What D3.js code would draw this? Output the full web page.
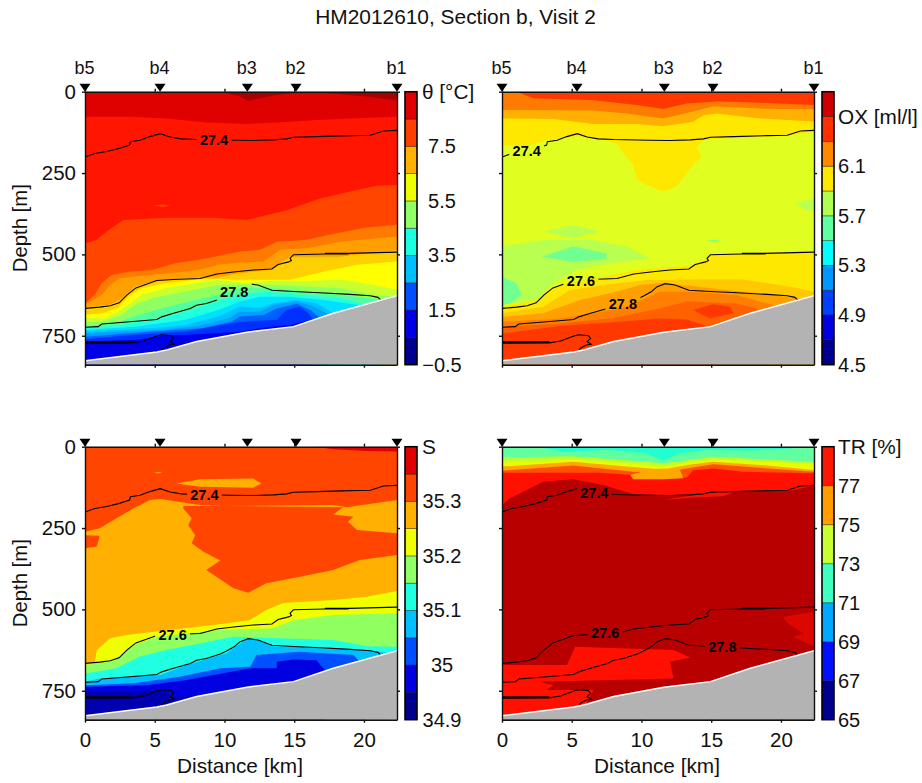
<!DOCTYPE html>
<html>
<head>
<meta charset="utf-8">
<script src="https://d3js.org/d3.v7.min.js"></script>
<style>
	body {
		padding: 0;
		margin: 0;
		background: #FFF;
	}
	svg {
		display: block;
	}
	text {
		font-family: "Liberation Sans", Arial, sans-serif;
		fill: #111;
	}
	.axis text {
		font-size: 20.5px;
	}
	.axis path, .axis line {
		stroke: #111;
		stroke-width: 1.4;
	}
	.cb {
		font-size: 20px;
	}
	.cbname {
		font-size: 20.8px;
	}
	.clabel {
		font-size: 14.5px;
		font-weight: bold;
		fill: #000;
	}
	.iso {
		fill: none;
		stroke: #000;
		stroke-width: 1.1;
	}
</style>
</head>
<body>
<div id="content"></div>
<script>

var stationNames = ['b5', 'b4', 'b3', 'b2', 'b1'];
var stationKm = [0, 5.38, 11.64, 15.13, 22.37];
var distanceTicks = [0, 5, 10, 15, 20];
var depthTicks = [0, 250, 500, 750];

// Bottom profile, distance [km] and depth [m]
var bottomProfile = [[0,827],[5.15,800],[5.85,794],[8,768],[11.6,739],[14.95,722],[17.8,681],[22.37,627]];

// Density contours
var iso274 = [[0,201],[0.7,190],[1.55,184],[2.4,175],[3.2,164],[3.25,154],[3.95,149],[4.65,138],[5.4,129],[6.1,139],[6.9,145],[8,147],[10.5,149],[12.05,150],[13.5,148],[14.45,145],[14.95,140],[16.6,138],[19,135],[20.45,134],[21.4,121],[22.37,119]];
var iso276 = [[0,666],[1.05,662],[1.8,658],[2.45,649],[3,625],[3.65,603],[4.4,592],[5.15,580],[6.35,577],[8.25,574],[9.45,560],[10.65,554],[12.05,548],[13.4,545],[13.85,531],[14.6,523],[14.8,519],[14.7,512],[14.95,501],[17.2,499],[18.9,499],[17.2,497],[18.9,497],[22.37,493]];
var iso278 = [[0,724],[0.95,722],[1.2,714],[3,708],[5.15,700],[5.5,692],[6.35,681],[7.55,666],[8,656],[8.7,651],[9.7,637],[10.15,628],[10.7,615],[11.1,600],[11.7,590],[12.4,594],[13.4,610],[14.95,614],[16.85,618],[19,623],[20.45,627],[21,632],[21.2,640]];
var iso280 = [[0,769],[3.4,769],[0,771],[3.4,771],[0,773],[3.4,772],[4.2,766],[5.15,751],[5.5,747],[6.2,750],[6.35,758],[6.1,768],[6.4,776],[6,779],[5.6,789],[5.55,796]];

// Contour labels: text, km, depth
var thetaLabels = [['27.4',9.25,150],['27.8',10.7,615]];
var oxLabels = [['27.4',1.77,181],['27.6',5.66,581],['27.8',8.67,653]];
var salLabels = [['27.4',8.56,149],['27.6',6.28,579]];
var trLabels = [['27.4',6.62,141],['27.6',7.4,574],['27.8',15.8,615]];

// Colorbars
var thetaBar = ['#00008f','#0000e8','#0050ff','#00bfff','#1affe0','#90ff68','#f0ff00','#ffb000','#ff4000','#e00000'];
var thetaTicks = [-0.5, 1.5, 3.5, 5.5, 7.5];
var thetaLevels = [-0.5, 9.5];
var oxBar = ['#000090','#0000e0','#0040ff','#0098ff','#00ffff','#60ff9f','#b0ff50','#ffe800','#ff8800','#ff3000','#cf0000'];
var oxTicks = [4.5, 4.9, 5.3, 5.7, 6.1];
var oxLevels = [4.5, 6.7];
var salBar = ['#00008f','#0000e0','#0050ff','#00c0ff','#20ffe0','#90ff68','#f0ff00','#ffb000','#ff4500','#e00000'];
var salTicks = [34.9, 35, 35.1, 35.2, 35.3];
var salLevels = [34.9, 35.4];
var trBar = ['#00008f','#0010ff','#00a8ff','#40ffc0','#c8ff30','#ff9c00','#ff1800'];
var trTicks = [65, 67, 69, 71, 73, 75, 77];
var trLevels = [65, 79];

// Filled layers, painted in order. "band" fills from its line down, "patch" is a closed shape
var thetaFills = ['#df0000','#a80000','#ff1500','#ff4500','#ff7a00','#ffa000','#ffd000','#ffff00','#c8ff30','#90ff60','#50ffa0','#20ffe0','#00e0ff','#00bfff','#00a0ff','#0060ff','#0030ff','#0000e8'];
var thetaLayers = [
	{c:0, band:[[0,0],[22.4,0]]},
	{c:1, patch:[[9.8,0],[11.1,15],[11.7,29],[12.55,20],[13.75,10],[14.95,5],[16.9,3],[20.2,15],[22.4,28],[22.4,0]]},
	{c:2, band:[[0,77],[3.45,77],[5.85,82],[8.7,95],[11.6,99],[13.75,95],[16.6,87],[20.2,80],[22.4,77]]},
	{c:3, band:[[0,466],[0.8,456],[1.55,430],[2.75,394],[5.85,387],[9.2,387],[11.6,394],[14.45,364],[16.85,328],[19,307],[20.9,289],[22.4,287]]},
	{c:3, patch:[[4.9,350],[5.6,347],[6.1,350],[5.6,354]]},
	{c:4, band:[[0,650],[0.7,625],[1.2,589],[1.9,563],[3.1,553],[4.8,548],[6.45,527],[8.1,517],[9.55,505],[11.1,491],[12.55,486],[13.75,461],[15.9,455],[18,435],[20.2,417],[22.4,409]]},
	{c:5, band:[[0,655],[1.2,625],[1.8,594],[2.5,573],[3.6,568],[6,558],[8.1,548],[9.55,532],[11.1,525],[12.8,522],[14,486],[15.9,481],[18.3,461],[22.4,445]]},
	{c:6, band:[[0,663],[1.7,655],[2.5,640],[3.6,599],[4.8,584],[7.2,573],[9.55,570],[11.1,558],[13.25,548],[14.7,507],[18.3,507],[22.4,486]]},
	{c:7, band:[[0,686],[1.4,679],[2.4,663],[3.1,630],[4.05,604],[5.75,589],[7.9,578],[8.85,576],[11.1,578],[14.7,578],[17.1,553],[19.5,532],[22.4,522]]},
	{c:8, band:[[0,696],[1.4,696],[2.4,676],[3.1,655],[4.05,625],[5.75,604],[7.9,589],[9.55,578],[11.45,589],[13.5,580],[15.9,582],[18.3,578],[20.7,594],[22.4,609]]},
	{c:9, band:[[0,707],[1.2,707],[2.6,686],[3.6,655],[4.8,635],[6.7,619],[9.55,594],[11.45,592],[13.5,594],[15.9,599],[18.3,604],[20.7,625],[22.4,630]]},
	{c:10, band:[[0,722],[2.4,707],[3.8,686],[6,660],[7.9,640],[9.55,625],[11.1,604],[13.5,604],[15.9,614],[18.3,625],[21.4,640]]},
	{c:11, band:[[0,727],[2.6,717],[5.5,696],[7.9,666],[9.8,640],[11.1,625],[13,614],[15.4,625],[18.3,635],[20.2,655]]},
	{c:12, band:[[0,732],[3.6,722],[7.2,701],[9.55,671],[11.1,645],[12.55,630],[14.7,630],[17.1,640],[19.5,655],[21,670]]},
	{c:13, band:[[0,737],[4.8,727],[7.2,717],[9.55,691],[11.1,660],[12.55,665],[13.5,650],[15.2,640],[16.6,650],[17.8,681]]},
	{c:14, band:[[0,742],[6,730],[8.4,717],[10.3,696],[11.1,676],[12.55,676],[13.5,655],[15.2,645],[16.4,660],[17.3,681],[18.3,696]]},
	{c:15, band:[[0,753],[4.8,737],[8.4,727],[10.5,707],[11.1,691],[12.8,686],[13.75,666],[15.2,652],[16.25,673],[16.85,696],[17.3,707]]},
	{c:16, band:[[0,761],[3.35,748],[7.2,737],[11.1,707],[13.75,701],[14.45,671],[15.4,660],[16,681],[16.5,707]]},
	{c:17, band:[[0,768],[3.6,762],[6,748],[7.2,748],[11.2,737],[13.25,722],[14.7,717],[15.8,705]]}
];

var oxFills = ['#ff7a00','#ff3800','#ffb000','#ffe800','#e0ff20','#b8ff50','#70ff90','#ffc800','#ffa000','#ff8000','#ff6000'];
var oxLayers = [
	{c:0, band:[[0,0],[22.4,0]]},
	{c:1, patch:[[1.05,0],[2.25,20],[6.55,26],[9.65,41],[11.55,53],[13.25,36],[15.6,29],[18.5,34],[22.4,41],[22.4,0]]},
	{c:2, band:[[0,56],[6.55,58],[8.95,67],[11.55,82],[13.7,61],[15.15,45],[18.5,52],[22.4,54]]},
	{c:3, band:[[0,82],[3.7,84],[6.55,99],[9.65,99],[11.55,106],[13.7,92],[14.45,72],[15.4,67],[18.5,82],[22.4,92]]},
	{c:4, band:[[0,164],[1.75,169],[3.2,149],[5.35,138],[7.25,147],[8.2,159],[8.7,190],[9.4,225],[9.65,266],[10.35,287],[11.55,307],[12.5,292],[13.7,225],[14.3,200],[13.95,169],[14.55,148],[20.9,133],[22.4,123]]},
	{c:5, patch:[[0.1,476],[2.95,456],[6.55,456],[8.95,476],[10.6,512],[7.75,528],[5.35,548],[3.7,589],[2.5,640],[0,656]]},
	{c:5, patch:[[2.95,430],[5.1,410],[7,430],[5.1,451]]},
	{c:5, patch:[[21,343],[22.4,328],[22.4,369],[21.85,364]]},
	{c:6, patch:[[2.85,507],[5.1,476],[7.5,497],[7.5,512],[5.1,523]]},
	{c:6, patch:[[0,569],[1.05,589],[1.4,625],[0.55,651],[0,656]]},
	{c:6, patch:[[14.65,458],[15.2,456],[15.75,458],[15.2,461]]},
	{c:3, band:[[0,659],[2.5,640],[3.45,605],[5.1,584],[7.25,569],[9.65,548],[13.7,533],[14.65,512],[14.9,499],[22.4,490]]},
	{c:7, band:[[0,681],[2.95,661],[4.85,610],[7.25,594],[10.35,579],[13.7,577],[17.3,577],[20.9,601],[22.4,615]]},
	{c:8, band:[[0,692],[2.95,681],[5.6,640],[8.2,615],[9.9,594],[11.55,587],[15.15,605],[18.5,620],[21.1,635],[22.4,635]]},
	{c:9, band:[[0,707],[4.15,697],[6.55,681],[8.95,661],[11.3,615],[13.7,615],[16.8,625],[19,651],[20.9,671]]},
	{c:10, band:[[0,722],[4.15,712],[7.75,697],[11.3,666],[13.25,645],[16.8,651],[18.25,666],[19,692]]},
	{c:1, patch:[[13.7,671],[15.15,653],[16.35,661],[16.6,681],[14.9,697]]},
	{c:1, band:[[0,743],[4.15,720],[8.45,707],[11.3,697],[13.25,700],[15.15,727]]}
];

var salFills = ['#ff4500','#e00000','#ffb000','#f0ff00','#90ff60','#20ffe0','#00c0ff','#0050ff','#0000e0','#0000b0'];
var salLayers = [
	{c:0, band:[[0,0],[22.4,0]]},
	{c:1, patch:[[16.5,0],[22.4,0],[22.4,15],[20.2,13],[17.8,8]]},
	{c:2, patch:[[4.9,79],[5.6,77],[5.25,82]]},
	{c:2, patch:[[6.55,113],[8.25,100],[12.05,98],[12.65,113],[12.05,126],[8.25,123]]},
	{c:2, band:[[0,261],[1.05,251],[2.05,225],[3.45,190],[4.65,164],[5.4,161],[8.25,179],[9.9,182],[17.8,179],[18.75,186],[22.4,164]]},
	{c:0, patch:[[7.05,182],[9.9,182],[18.5,186],[17.8,208],[19.25,215],[18.85,231],[19.5,256],[22.4,266],[22.4,333],[19.7,348],[17.8,379],[15.4,400],[13,420],[11.7,449],[10.65,435],[8.7,379],[9.7,350],[8.5,323],[7.65,297],[7.9,272],[7.4,241],[7.65,220],[7.05,190]]},
	{c:0, patch:[[0,272],[1.05,274],[0.85,307],[0,312]]},
	{c:3, band:[[0,666],[0.7,661],[0.85,625],[1.8,589],[3,579],[5.85,564],[9.2,548],[11.8,533],[13,502],[14.2,480],[17.8,471],[20.2,461],[22.4,443]]},
	{c:4, band:[[0,671],[2.05,656],[3.45,610],[5.15,584],[9.45,564],[13.5,558],[14.95,533],[17.8,517],[22.4,512]]},
	{c:5, band:[[0,697],[2.25,681],[3.95,645],[5.85,625],[8.25,605],[10.65,584],[17.8,594],[20.2,613],[22.4,615]]},
	{c:6, band:[[0,722],[1.05,712],[5.4,702],[7.3,671],[10.15,635],[11.6,592],[12.3,594],[13.5,613],[17.8,618],[21.15,630],[21.85,635]]},
	{c:7, band:[[0,733],[3.45,727],[6.8,707],[9.7,681],[11.85,676],[12.3,640],[15.4,630],[19.25,640],[19.6,656],[19.95,661]]},
	{c:8, band:[[0,738],[4.4,733],[7.3,717],[11.85,681],[13.75,681],[13.75,661],[14.95,654],[16.6,656],[17.2,686],[17.2,707]]},
	{c:9, patch:[[0,753],[3.45,753],[5.4,748],[6.35,768],[8.25,768],[5.85,809],[0,830]]}
];

var trFills = ['#60ff9f','#20ffd0','#c0ff30','#e8ff00','#ffa800','#ff5000','#ff1000','#b80000','#dc0800'];
var trLayers = [
	{c:0, band:[[0,0],[22.4,0]]},
	{c:1, patch:[[2.7,2],[4.4,15],[7.75,10],[10.35,20],[11.55,43],[12.75,20],[14.65,10],[18,12],[20.9,5],[22.4,2]]},
	{c:2, band:[[0,33],[5.1,29],[10.35,46],[11.55,51],[13.7,39],[15.15,31],[22.4,46]]},
	{c:3, band:[[0,49],[5.1,39],[8.95,51],[11.55,61],[13.7,46],[15.15,39],[22.4,53]]},
	{c:4, band:[[0,61],[5.1,46],[8.95,61],[11.55,70],[13.25,56],[15.15,46],[18.5,56],[22.4,72]]},
	{c:5, band:[[0,74],[5.1,58],[9.4,77],[11.55,80],[13.25,67],[15.15,54],[22.4,77]]},
	{c:6, band:[[0,80],[7,80],[9.4,87],[11.55,100],[13.25,95],[13.7,72],[15.15,67],[17.3,77],[22.4,82]]},
	{c:4, patch:[[9.2,87],[10.6,70],[11.55,67],[12.75,70],[13,97],[11.55,100],[9.4,100]]},
	{c:7, band:[[0,179],[0.55,159],[2.95,108],[5.1,100],[7.25,118],[9.4,145],[13.5,152],[14.65,141],[20.9,133],[22.4,120]]},
	{c:6, patch:[[11.55,164],[13.7,156],[15.85,152],[16.8,138],[14.65,140],[13.25,152]]},
	{c:6, patch:[[0,671],[4.65,671],[5.25,615],[12.3,625],[13.5,648],[12.05,661],[12.3,712],[2.7,722],[3.7,733],[3.2,748],[6.55,748],[6.05,789],[5.6,799],[0,830]]},
	{c:8, patch:[[20.15,523],[22.4,507],[22.4,615],[20.9,584],[21.6,574],[20.5,543]]}
];

// Panels
var w = 922, h = 783;
var panels = [
	{x:85, y:91.7, fills:thetaFills, layers:thetaLayers, labels:thetaLabels, bar:thetaBar, ticks:thetaTicks, levels:thetaLevels, name:'\u03b8 [\u00b0C]', nameAt:9.5, nameX:422, tickX:442, left:true, bottom:false},
	{x:502, y:91.7, fills:oxFills, layers:oxLayers, labels:oxLabels, bar:oxBar, ticks:oxTicks, levels:oxLevels, name:'OX [ml/l]', nameAt:6.5, nameX:838, tickX:852, left:false, bottom:false},
	{x:85, y:446.7, fills:salFills, layers:salLayers, labels:salLabels, bar:salBar, ticks:salTicks, levels:salLevels, name:'S', nameAt:35.4, nameX:422, tickX:442, left:true, bottom:true},
	{x:502, y:446.7, fills:trFills, layers:trLayers, labels:trLabels, bar:trBar, ticks:trTicks, levels:trLevels, name:'TR [%]', nameAt:79, nameX:838, tickX:849, left:false, bottom:true}
];
var pw = 312, ph = 273;

var svg = d3.select('#content')
	.append('svg')
	.attr('width', w)
	.attr('height', h);

svg.append('text')
	.attr('x', 455.5)
	.attr('y', 24)
	.attr('text-anchor', 'middle')
	.style('font-size', '20.9px')
	.text('HM2012610, Section b, Visit 2');

panels.forEach(function(p, i) {
	var x = d3.scaleLinear().domain([0, 22.37]).range([0, pw]);
	var y = d3.scaleLinear().domain([0, 839]).range([0, ph]);

	var g = svg.append('g').attr('transform', 'translate(' + p.x + ',' + p.y + ')');

	var defs = g.append('defs');
	defs.append('clipPath').attr('id', 'clip' + i)
		.append('rect').attr('width', pw).attr('height', ph);

	// Mask leaves gaps in the contours around the labels
	var mask = defs.append('mask').attr('id', 'gaps' + i)
		.attr('maskUnits', 'userSpaceOnUse')
		.attr('x', 0).attr('y', 0).attr('width', pw).attr('height', ph);
	mask.append('rect').attr('width', pw).attr('height', ph).attr('fill', '#FFF');
	mask.selectAll('.gap').data(p.labels).enter().append('rect')
		.attr('x', function(d) { return x(d[1]) - 17.5; })
		.attr('y', function(d) { return y(d[2]) - 9; })
		.attr('width', 35)
		.attr('height', 18)
		.attr('fill', '#000');

	var area = d3.area()
		.x(function(d) { return x(d[0]); })
		.y0(ph)
		.y1(function(d) { return y(d[1]); });
	var closed = d3.line()
		.x(function(d) { return x(d[0]); })
		.y(function(d) { return y(d[1]); })
		.curve(d3.curveLinearClosed);
	var line = d3.line()
		.x(function(d) { return x(d[0]); })
		.y(function(d) { return y(d[1]); });

	var field = g.append('g').attr('clip-path', 'url(#clip' + i + ')');

	field.selectAll('.layer').data(p.layers).enter().append('path')
		.attr('class', 'layer')
		.attr('fill', function(d) { return p.fills[d.c]; })
		.attr('d', function(d) { return d.band ? area(d.band) : closed(d.patch); });

	// Contours go under the bottom
	field.append('g').attr('mask', 'url(#gaps' + i + ')')
		.selectAll('.iso').data([iso274, iso276, iso278, iso280]).enter().append('path')
		.attr('class', 'iso')
		.attr('d', line);

	field.append('path')
		.attr('fill', '#b3b3b3')
		.attr('d', area(bottomProfile));
	field.append('path')
		.attr('fill', 'none')
		.attr('stroke', '#FFF')
		.attr('stroke-width', 1.5)
		.attr('d', line(bottomProfile));

	field.selectAll('.clabel').data(p.labels).enter().append('text')
		.attr('class', 'clabel')
		.attr('x', function(d) { return x(d[1]); })
		.attr('y', function(d) { return y(d[2]) + 5; })
		.attr('text-anchor', 'middle')
		.text(function(d) { return d[0]; });

	// Axes
	g.append('g').attr('class', 'axis')
		.attr('transform', 'translate(0,' + ph + ')')
		.call(d3.axisBottom(x).tickValues(distanceTicks).tickSize(3).tickSizeOuter(0).tickPadding(10)
			.tickFormat(p.bottom ? d3.format('d') : ''));
	g.append('g').attr('class', 'axis')
		.call(d3.axisTop(x).tickValues(distanceTicks).tickSize(3).tickSizeOuter(0).tickFormat(''));
	g.append('g').attr('class', 'axis')
		.call(d3.axisLeft(y).tickValues(depthTicks).tickSize(3).tickSizeOuter(0).tickPadding(6)
			.tickFormat(p.left ? d3.format('d') : ''));
	g.append('g').attr('class', 'axis')
		.attr('transform', 'translate(' + pw + ',0)')
		.call(d3.axisRight(y).tickValues(depthTicks).tickSize(3).tickSizeOuter(0).tickFormat(''));

	if (p.left) {
		g.append('text')
			.attr('transform', 'translate(' + (27 - p.x) + ',' + (ph / 2) + ') rotate(-90)')
			.attr('text-anchor', 'middle')
			.style('font-size', '20.3px')
			.text('Depth [m]');
	}
	if (p.bottom) {
		g.append('text')
			.attr('x', pw / 2 - 1)
			.attr('y', ph + 53)
			.attr('text-anchor', 'middle')
			.style('font-size', '20.8px')
			.text('Distance [km]');
	}

	// Stations
	g.selectAll('.station').data(stationKm).enter().append('path')
		.attr('class', 'station')
		.attr('fill', '#000')
		.attr('d', function(d) {
			var sx = Math.min(x(d), pw);
			return 'M' + (sx - 5.5) + ',-8L' + (sx + 5.5) + ',-8L' + sx + ',0Z';
		});
	if (i < 2) {
		g.selectAll('.sname').data(stationNames).enter().append('text')
			.attr('x', function(d, j) { return x(stationKm[j]) - 0.5; })
			.attr('y', -18)
			.attr('text-anchor', 'middle')
			.style('font-size', '18px')
			.text(function(d) { return d; });
	}

	// Colorbar
	var cbx = (p.x === 85 ? 405 : 822) - p.x, cbw = 12;
	var c = d3.scaleLinear().domain(p.levels).range([ph, 0]);
	var step = (p.levels[1] - p.levels[0]) / p.bar.length;
	g.selectAll('.band').data(p.bar).enter().append('rect')
		.attr('class', 'band')
		.attr('x', cbx)
		.attr('width', cbw)
		.attr('y', function(d, j) { return c(p.levels[0] + (j + 1) * step); })
		.attr('height', function(d, j) { return c(p.levels[0] + j * step) - c(p.levels[0] + (j + 1) * step); })
		.attr('fill', function(d) { return d; })
		.attr('stroke', '#000')
		.attr('stroke-opacity', 0.45)
		.attr('stroke-width', 0.8);
	g.append('rect')
		.attr('x', cbx)
		.attr('width', cbw)
		.attr('height', ph)
		.attr('fill', 'none')
		.attr('stroke', '#000')
		.attr('stroke-width', 1.5);
	g.selectAll('.cbt').data(p.ticks).enter().append('text')
		.attr('class', 'cb')
		.attr('x', p.tickX - p.x)
		.attr('y', function(d) { return c(d) + 7; })
		.attr('text-anchor', 'middle')
		.text(function(d) { return String(d).replace('-', '\u2212'); });
	g.append('text')
		.attr('class', 'cbname')
		.attr('x', p.nameX - p.x)
		.attr('y', c(p.nameAt) + 7)
		.text(p.name);
});

</script>
</body>
</html>
